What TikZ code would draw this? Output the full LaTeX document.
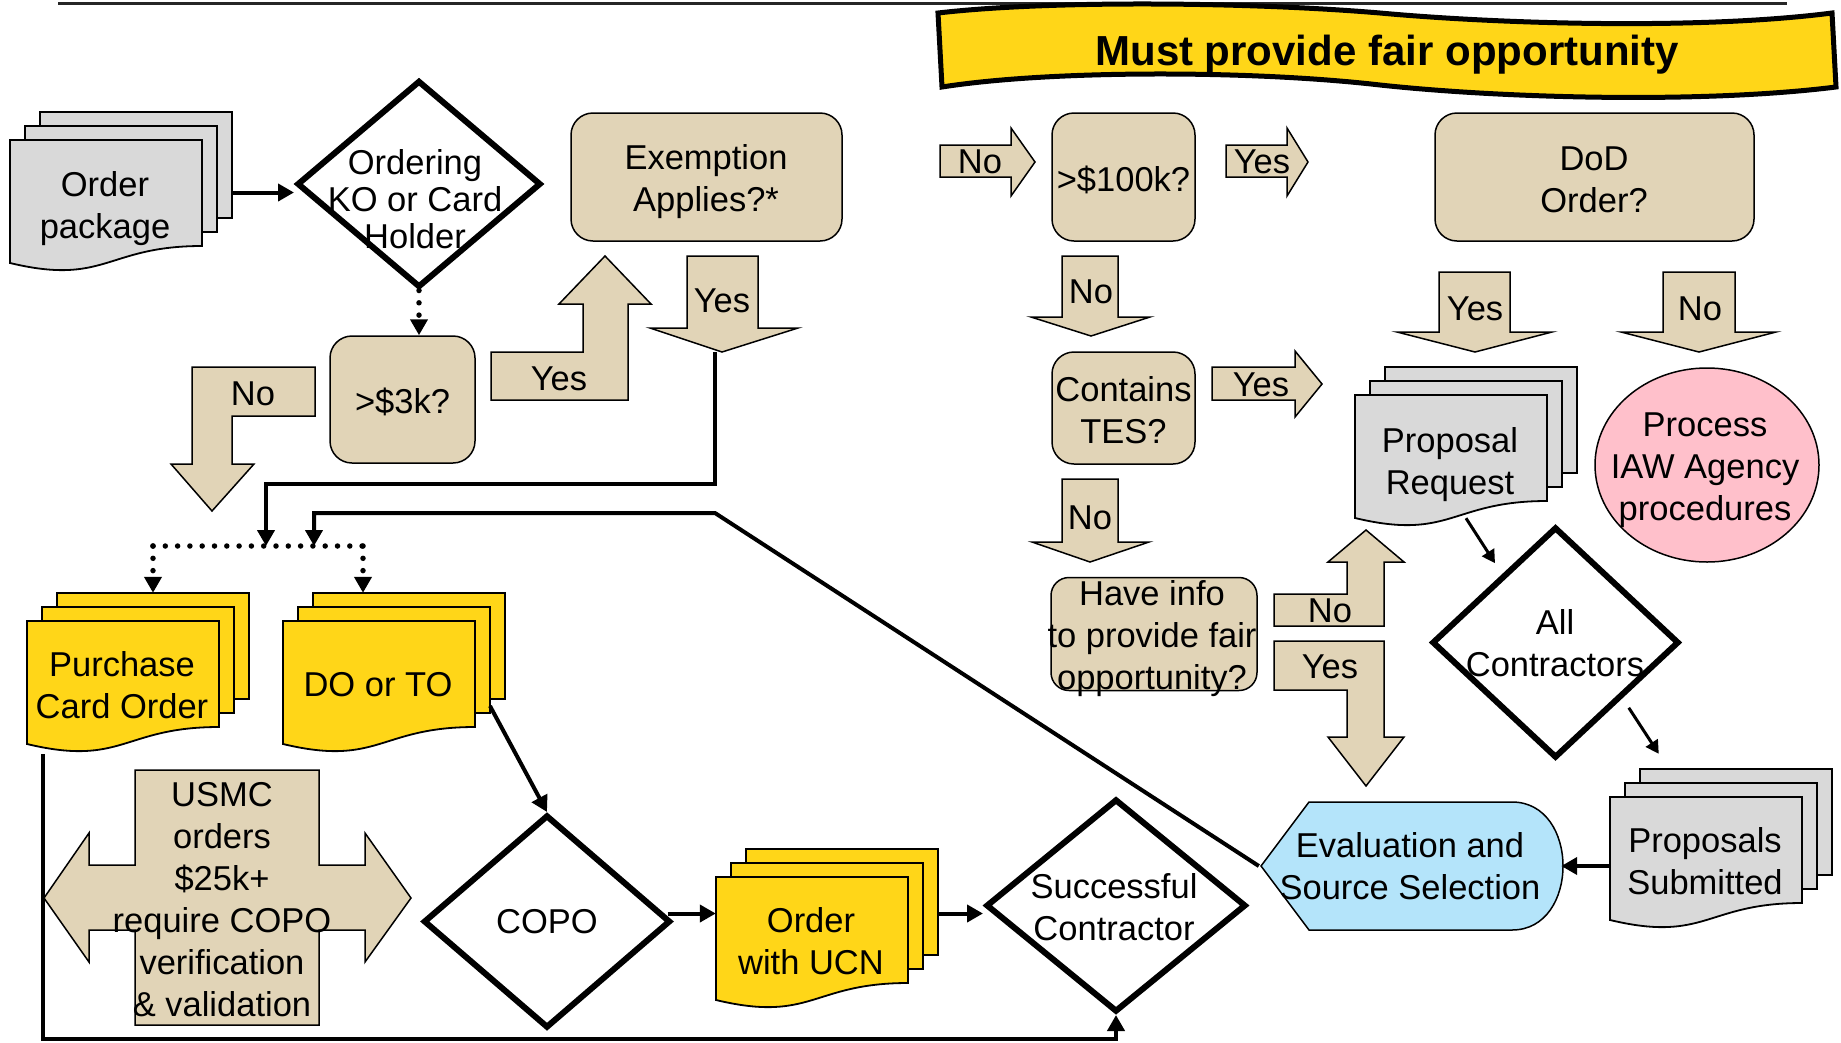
\documentclass[tikz,border=0pt]{standalone}
\usepackage{fontspec}
\setmainfont{Liberation Sans}
\usetikzlibrary{arrows.meta, shapes.geometric, calc}

\definecolor{tanc}{RGB}{225,212,183}
\definecolor{yelc}{RGB}{255,214,24}
\definecolor{grayc}{RGB}{217,217,217}
\definecolor{pinkc}{RGB}{255,192,203}
\definecolor{bluec}{RGB}{180,228,250}

\tikzset{
  txt/.style={align=center, inner sep=0pt, font=\fontsize{34.5}{42}\selectfont},
  sheet/.style={draw, line width=1.8pt},
  qbox/.style={txt, draw, line width=1.5pt, fill=tanc, rounded corners=22pt, execute at begin node={\rule{0pt}{31pt}}},
  dia/.style={draw, line width=6pt, diamond, inner sep=0pt, fill=white},
  barrow/.style={draw, line width=1.5pt, fill=tanc},
  conn/.style={line width=4pt, -{Triangle[length=16pt,width=17pt]}},
  thinconn/.style={line width=3pt, -{Triangle[length=13pt,width=14pt]}},
  dotline/.style={line width=5.5pt, line cap=round, dash pattern=on 0pt off 12.3pt},
  dotarr/.style={dotline, -{Triangle[length=16pt,width=17pt]}},
}

\newcommand{\docstack}[6]{%
  \draw[sheet,fill=#4] (#2+30,#3-28) rectangle (#2+222,#3+78);
  \draw[sheet,fill=#4] (#2+15,#3-14) rectangle (#2+207,#3+92);
  \draw[sheet,fill=#4] (#2,#3) -- (#2+192,#3) -- (#2+192,#3+106) .. controls (#2+96,#3+106) and (#2+96,#3+146) .. (#2,#3+123) -- cycle;
  \node[txt] (#1-t) at (#2+95,#3+#6) {#5};
  \node[inner sep=0pt, minimum width=222pt, minimum height=151pt] (#1) at (#2+111,#3+47.5) {};
  \coordinate (#1-m) at (#2+207,#3+85);
}

\begin{document}
\begin{tikzpicture}[x=1pt, y=-1pt]
\useasboundingbox (0,0) rectangle (1841,1042);
\draw[line width=3pt, black!85] (58,3) -- (1787,3);
\draw[line width=5pt, fill=yelc] (938,13) .. controls (1050,0) and (1250,2) .. (1380,13) .. controls (1500,24) and (1700,30) .. (1832,13) -- (1836,87) .. controls (1700,104) and (1500,98) .. (1380,85) .. controls (1250,70) and (1050,70) .. (942,87) -- cycle;
\node[inner sep=0pt, font=\fontsize{42}{48}\selectfont\bfseries] (banner) at (1387,55) {Must provide fair opportunity};

\docstack{pkg}{10}{140}{grayc}{Order\\package}{69}
\node[dia, minimum width=244pt, minimum height=207pt] (okc) at (419,184) {};
\node[txt, font=\fontsize{34.5}{37}\selectfont] (okc-t) at (415,199) {Ordering\\KO or Card\\Holder};
\node[qbox, minimum width=145pt, minimum height=127pt] (gt3k) at (402.5,399.5) {>\$3k?};
\node[qbox, minimum width=271pt, minimum height=128pt] (exempt) at (706.5,177) {};
\node[txt] (exempt-t) at (706,181.5) {Exemption\\Applies?*};
\node[qbox, minimum width=143pt, minimum height=128pt] (gt100k) at (1123.5,177) {>\$100k?};
\node[qbox, minimum width=319pt, minimum height=128pt] (dod) at (1594.5,177) {};
\node[txt] (dod-t) at (1594,179.5) {DoD\\Order?};
\node[qbox, minimum width=143pt, minimum height=112pt] (tes) at (1123.5,408) {};
\node[txt] (tes-t) at (1123.5,410.5) {Contains\\TES?};
\node[qbox, minimum width=206pt, minimum height=113pt, rounded corners=18pt] (info) at (1154,634) {};
\node[txt] (info-t) at (1152,638.5) {Have info\\to provide fair\\opportunity?};
\node[draw, line width=1.5pt, fill=pinkc, ellipse, minimum width=224pt, minimum height=194pt] (agency) at (1707,465) {};
\node[txt] (agency-t) at (1705,470) {Process\\IAW Agency\\procedures};

\docstack{prq}{1355}{395}{grayc}{Proposal\\Request}{70}
\node[dia, minimum width=247pt, minimum height=231pt] (allcon) at (1555.5,642.5) {};
\node[txt] (allcon-t) at (1555,643) {All\\Contractors};
\docstack{propsub}{1610}{797}{grayc}{Proposals\\Submitted}{64}
\draw[line width=1.5pt, fill=bluec] (1261,866) -- (1309,802) -- (1512,802) .. controls (1580,802) and (1580,930) .. (1512,930) -- (1309,930) -- cycle;
\node[txt, minimum width=302pt, minimum height=128pt] (evalsel) at (1410,866) {Evaluation and\\Source Selection};
\node[dia, minimum width=260pt, minimum height=213pt] (succ) at (1116,905.5) {};
\node[txt] (succ-t) at (1114,907) {Successful\\Contractor};
\docstack{ucn}{716}{877}{yelc}{Order\\with UCN}{64}
\node[dia, txt, minimum width=247pt, minimum height=213pt] (copo) at (547,921.5) {COPO};
\docstack{pco}{27}{621}{yelc}{Purchase\\Card Order}{64}
\docstack{doto}{283}{621}{yelc}{DO or TO}{64}

\draw[barrow] (135,770) -- (319,770) -- (319,865) -- (365,865) -- (365,833) -- (411,898) -- (365,962) -- (365,930) -- (319,930) -- (319,1025) -- (135,1025) -- (135,930) -- (89,930) -- (89,962) -- (44,898) -- (89,833) -- (89,865) -- (135,865) -- cycle;
\node[txt] (usmc) at (222,900) {USMC\\orders\\\$25k+\\require COPO\\verification\\\& validation};

\draw[barrow] (315,367) -- (192,367) -- (192,464) -- (171,464) -- (212,511) -- (254,464) -- (232,464) -- (232,416) -- (315,416) -- cycle;
\node[txt] (no3k) at (253,394) {No};
\draw[barrow] (491,352) -- (583,352) -- (583,304) -- (559,304) -- (605,256) -- (651,304) -- (628,304) -- (628,400) -- (491,400) -- cycle;
\node[txt] (yes3k) at (559,379) {Yes};
\draw[barrow] (687,256) -- (758,256) -- (758,328) -- (798,328) -- (722,352) -- (650,328) -- (687,328) -- cycle;
\node[txt] (yesex) at (722,301) {Yes};
\draw[barrow] (940,145) -- (1011,145) -- (1011,128) -- (1035,162) -- (1011,196) -- (1011,177) -- (940,177) -- cycle;
\node[txt] (noex) at (980,162) {No};
\draw[barrow] (1226,145) -- (1287,145) -- (1287,128) -- (1308,162) -- (1287,196) -- (1287,177) -- (1226,177) -- cycle;
\node[txt] (yes100) at (1262,162) {Yes};
\draw[barrow] (1062,256) -- (1118,256) -- (1118,317) -- (1150,317) -- (1091,336) -- (1031,317) -- (1062,317) -- cycle;
\node[txt] (no100) at (1091,292) {No};
\draw[barrow] (1212,367) -- (1295,367) -- (1295,351) -- (1322,384) -- (1295,417) -- (1295,400) -- (1212,400) -- cycle;
\node[txt] (yestes) at (1261,385) {Yes};
\draw[barrow] (1062,479) -- (1118,479) -- (1118,542) -- (1149,542) -- (1090,562) -- (1032,542) -- (1062,542) -- cycle;
\node[txt] (notes) at (1090,518) {No};
\draw[barrow] (1439,272) -- (1510,272) -- (1510,332) -- (1552,332) -- (1475,352) -- (1397,332) -- (1439,332) -- cycle;
\node[txt] (yesdod) at (1475,309) {Yes};
\draw[barrow] (1663,272) -- (1735,272) -- (1735,332) -- (1776,332) -- (1699,352) -- (1621,332) -- (1663,332) -- cycle;
\node[txt] (nodod) at (1700,309) {No};
\draw[barrow] (1274,594) -- (1347,594) -- (1347,562) -- (1328,562) -- (1366,530) -- (1404,562) -- (1384,562) -- (1384,626) -- (1274,626) -- cycle;
\node[txt] (noinfo) at (1330,611) {No};
\draw[barrow] (1274,641) -- (1384,641) -- (1384,737) -- (1404,737) -- (1366,786) -- (1328,737) -- (1347,737) -- (1347,690) -- (1274,690) -- cycle;
\node[txt] (yesinfo) at (1330,667) {Yes};

\coordinate (exyes) at (715,352);
\coordinate (bend) at (715,513);
\coordinate (dl) at (153,546);
\coordinate (dr) at (363,546);
\coordinate (dm1) at (266,546);
\coordinate (dm2) at (314,546);

\draw[conn] ([yshift=-5pt]pkg.east) -- ([yshift=-5pt]pkg.east -| okc.west);
\draw[dotarr] (okc.south) -- (okc.south |- gt3k.north);
\draw[conn] (exyes) -- ++(0,132) -| (dm1);
\draw[conn] (evalsel.west) -- (bend) -| (dm2);
\draw[dotline] (dl) -- (dr);
\draw[dotarr] (dl) -- (dl |- pco.north);
\draw[dotarr] (dr) -- (dr |- doto.north);
\draw[conn] (doto-m) -- (copo.north);
\draw[conn] ([shift={(-6,-8)}]copo.east) -- ([yshift=8pt]copo.east -| ucn.west);
\draw[conn] ([yshift=8pt]copo.east -| ucn.east) -- ([yshift=8pt]copo.east -| succ.west);
\draw[conn] ([shift={(16,10)}]pco.south west) -- ++(0,285) -| (succ.south);
\draw[thinconn] (prq.south) -- ++(29,45);
\draw[thinconn] ([shift={(10,6)}]allcon.south east) -- ++(30,46);
\draw[conn] (propsub.west |- evalsel.east) -- (evalsel.east);
\end{tikzpicture}
\end{document}
